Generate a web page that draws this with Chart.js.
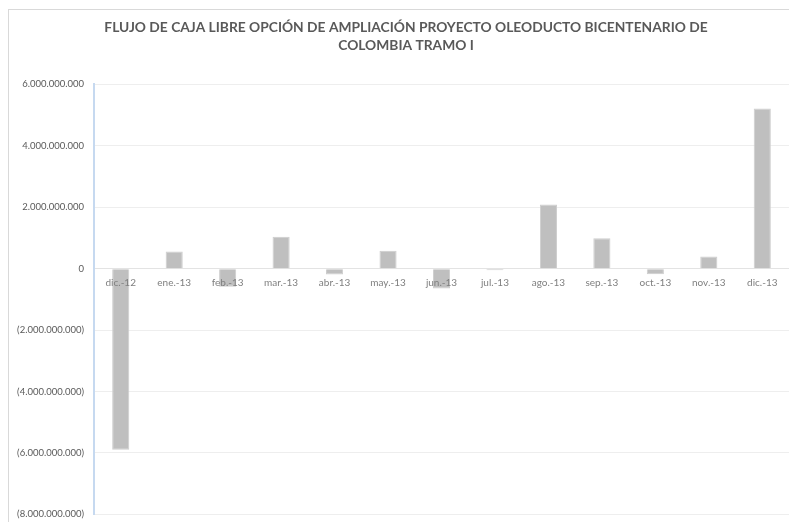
<!DOCTYPE html>
<html>
<head>
<meta charset="utf-8">
<script src="https://cdn.jsdelivr.net/npm/chart.js@4.4.1/dist/chart.umd.min.js"></script>
<style>
  html, body { margin: 0; padding: 0; background: #ffffff; overflow: hidden; width: 789px; height: 522px; }
  #frame { position: absolute; left: 8px; top: 9px; width: 796px; height: 540px;
           border-left: 1px solid #d9d9d9; border-top: 1px solid #d9d9d9; background: #fff; }
  #wrap { position: absolute; left: 0; top: 0; width: 796px; height: 520px; }
</style>
</head>
<body>
<div id="frame"><div id="wrap"><canvas id="c"></canvas></div></div>
<script>
const categories = ['dic.-12','ene.-13','feb.-13','mar.-13','abr.-13','may.-13','jun.-13','jul.-13','ago.-13','sep.-13','oct.-13','nov.-13','dic.-13'];
const flujoCajaLibre = [-5900000000, 560000000, -590000000, 1040000000, -190000000, 580000000, -650000000, -50000000, 2090000000, 990000000, -180000000, 400000000, 5220000000];
const titleLines = ['FLUJO DE CAJA LIBRE OPCIÓN DE AMPLIACIÓN PROYECTO OLEODUCTO BICENTENARIO DE', 'COLOMBIA TRAMO I'];
const yMin = -8000000000;
const yMax = 6000000000;
const yStep = 2000000000;

function fmtNum(v) {
  const s = Math.round(Math.abs(v)).toString().replace(/\B(?=(\d{3})+(?!\d))/g, '.');
  return v < 0 ? '(' + s + ')' : s;
}

new Chart(document.getElementById('c'), {
  type: 'bar',
  data: {
    labels: categories,
    datasets: [{
      data: flujoCajaLibre,
      backgroundColor: '#bfbfbf',
      borderColor: '#cdcdcd',
      borderWidth: 1,
      barPercentage: 0.32,
      categoryPercentage: 1.0
    }]
  },
  options: {
    responsive: true,
    maintainAspectRatio: false,
    animation: false,
    layout: { padding: { left: 14, right: 16, top: 0, bottom: 7 } },
    plugins: {
      legend: { display: false },
      tooltip: { enabled: false },
      title: {
        display: true,
        text: titleLines,
        color: '#595959',
        font: { family: 'Lato', size: 13.8, weight: 'bold', lineHeight: 1.32 },
        padding: { top: 8, bottom: 30 }
      }
    },
    scales: {
      x: {
        position: { y: 0 },
        grid: { display: false, drawTicks: false },
        border: { display: true, color: '#e3e3e3', width: 1 },
        ticks: {
          z: 1,
          color: '#7f7f7f',
          font: { family: 'Lato', size: 10 },
          padding: 8,
          autoSkip: false,
          maxRotation: 0,
          minRotation: 0
        }
      },
      y: {
        min: yMin,
        max: yMax,
        afterFit: (s) => { s.width = 71; s._computeLabelArea = () => undefined; },
        grid: { color: '#eeeeee', lineWidth: 1, drawTicks: false },
        border: { display: true, color: '#c6d9f0', width: 2 },
        ticks: {
          stepSize: yStep,
          color: '#595959',
          font: { family: 'Lato', size: 9.5 },
          padding: 10,
          callback: (v) => fmtNum(v)
        }
      }
    }
  }
});
</script>
</body>
</html>
